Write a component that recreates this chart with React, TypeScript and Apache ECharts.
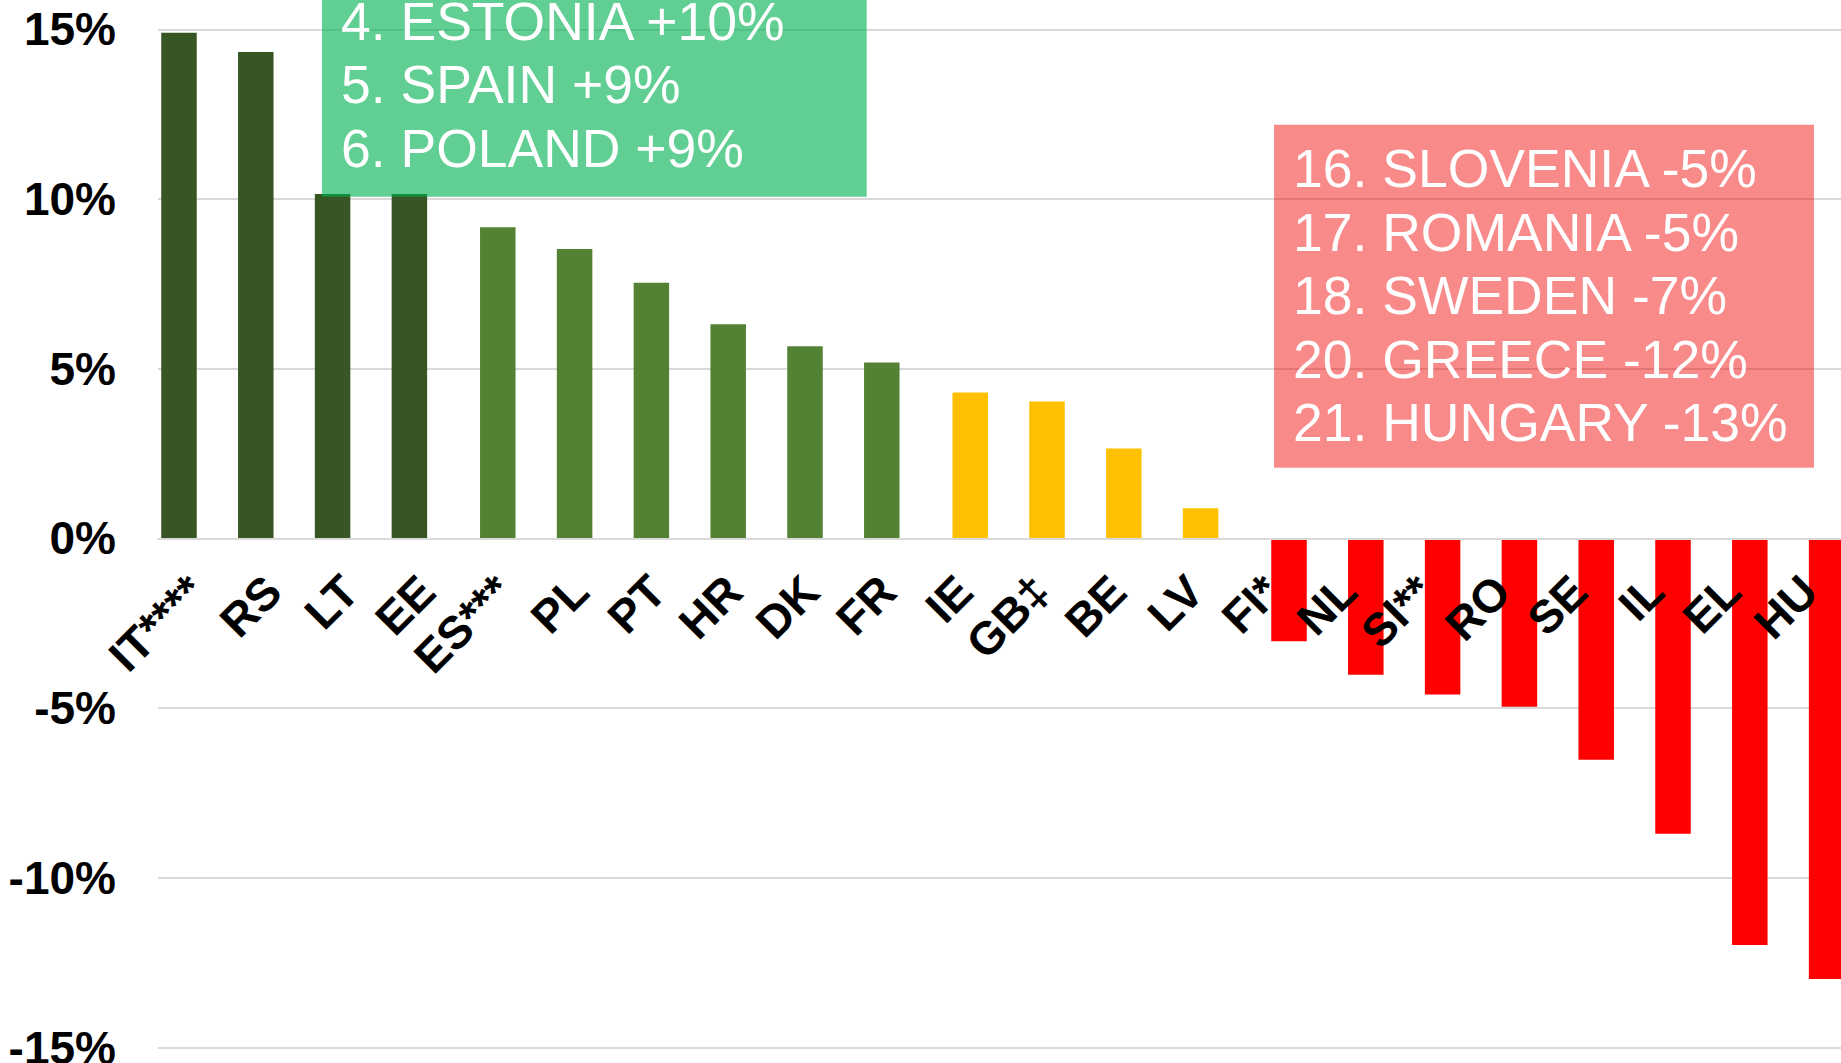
import React, { useEffect, useRef } from 'react';
import * as echarts from 'echarts';

const categories = ['IT****', 'RS', 'LT', 'EE', 'ES***', 'PL', 'PT', 'HR', 'DK', 'FR', 'IE', 'GB‡', 'BE', 'LV', 'FI*', 'NL', 'SI**', 'RO', 'SE', 'IL', 'EL', 'HU'];
const values = [14.9, 14.33, 10.15, 10.15, 9.17, 8.53, 7.53, 6.31, 5.66, 5.18, 4.3, 4.03, 2.65, 0.89, -3.03, -4.02, -4.6, -4.96, -6.52, -8.7, -11.98, -12.98];
const groupOf = [0, 0, 0, 0, 1, 1, 1, 1, 1, 1, 2, 2, 2, 2, 3, 3, 3, 3, 3, 3, 3, 3];
const groupColors = ['#375623', '#548235', '#FFC000', '#FF0000'];
const yMin = -15;
const yMax = 15;
const yStep = 5;
const topBoxLines = ['4. ESTONIA +10%', '5. SPAIN +9%', '6. POLAND +9%'];
const bottomBoxLines = ['16. SLOVENIA -5%', '17. ROMANIA -5%', '18. SWEDEN -7%', '20. GREECE -12%', '21. HUNGARY -13%'];

const CHART_W = 1870;
const CHART_H = 1063;
const GRID_TOP = 29.3;
const GRID_BOTTOM_Y = 1047.5;
const FONT = '"Liberation Sans", Arial, sans-serif';

export default function App() {
  const ref = useRef<HTMLDivElement>(null);

  useEffect(() => {
    if (!ref.current) return;
    const chart = echarts.init(ref.current, undefined, { renderer: 'svg' });

    const series = groupColors.map((color, g) => ({
      type: 'bar',
      name: 'g' + g,
      data: values.map((v, i) => (groupOf[i] === g ? v : null)),
      barWidth: 35.5,
      barGap: '-67.3%',
      itemStyle: { color },
      z: 2,
    }));

    const plotH = GRID_BOTTOM_Y - GRID_TOP;
    const zeroOffset = -plotH * (0 - yMin) / (yMax - yMin);

    const lineH = 63.4;
    const topTexts = topBoxLines.map((t, i) => ({
      type: 'text',
      x: 341,
      y: 40 + i * lineH - 18.5,
      z: 101,
      style: { text: t, fill: '#ffffff', fontSize: 53.5, fontFamily: FONT, verticalAlign: 'middle', align: 'left' },
    }));
    const bottomTexts = bottomBoxLines.map((t, i) => ({
      type: 'text',
      x: 1293,
      y: 187.3 + i * lineH - 18.5,
      z: 101,
      style: { text: t, fill: '#ffffff', fontSize: 53.5, fontFamily: FONT, verticalAlign: 'middle', align: 'left' },
    }));

    chart.setOption({
      animation: false,
      backgroundColor: '#ffffff',
      grid: {
        left: 158,
        right: CHART_W - 1847.6,
        top: GRID_TOP,
        bottom: CHART_H - GRID_BOTTOM_Y,
        containLabel: false,
        outerBoundsMode: 'none',
      },
      xAxis: {
        type: 'category',
        data: categories,
        z: 10,
        position: 'bottom',
        offset: zeroOffset,
        axisTick: { show: false },
        axisLine: { onZero: false, lineStyle: { color: '#D9D9D9', width: 2 } },
        axisLabel: {
          interval: 0,
          rotate: 45,
          margin: 45,
          color: '#000000',
          fontSize: 46,
          fontWeight: 'bold',
          fontFamily: FONT,
        },
        splitLine: { show: false },
      },
      yAxis: {
        type: 'value',
        min: yMin,
        max: yMax,
        interval: yStep,
        axisLine: { show: false },
        axisTick: { show: false },
        axisLabel: {
          formatter: '{value}%',
          margin: 42,
          color: '#000000',
          fontSize: 46,
          fontWeight: 'bold',
          fontFamily: FONT,
        },
        splitLine: { lineStyle: { color: '#D9D9D9', width: 2 } },
      },
      series,
      graphic: [
        {
          type: 'rect',
          z: 100,
          shape: { x: 322, y: -250, width: 544.7, height: 446.7 },
          style: { fill: 'rgba(0,176,80,0.62)' },
        },
        ...topTexts,
        {
          type: 'rect',
          z: 100,
          shape: { x: 1274, y: 124.7, width: 540, height: 343 },
          style: { fill: 'rgba(242,0,0,0.46)' },
        },
        ...bottomTexts,
      ],
    });

    return () => chart.dispose();
  }, []);

  return (
    <div style={{ position: 'fixed', left: 0, top: 0, width: 1841, height: 1063, overflow: 'hidden', background: '#ffffff' }}>
      <div ref={ref} style={{ width: CHART_W, height: CHART_H }} />
    </div>
  );
}
